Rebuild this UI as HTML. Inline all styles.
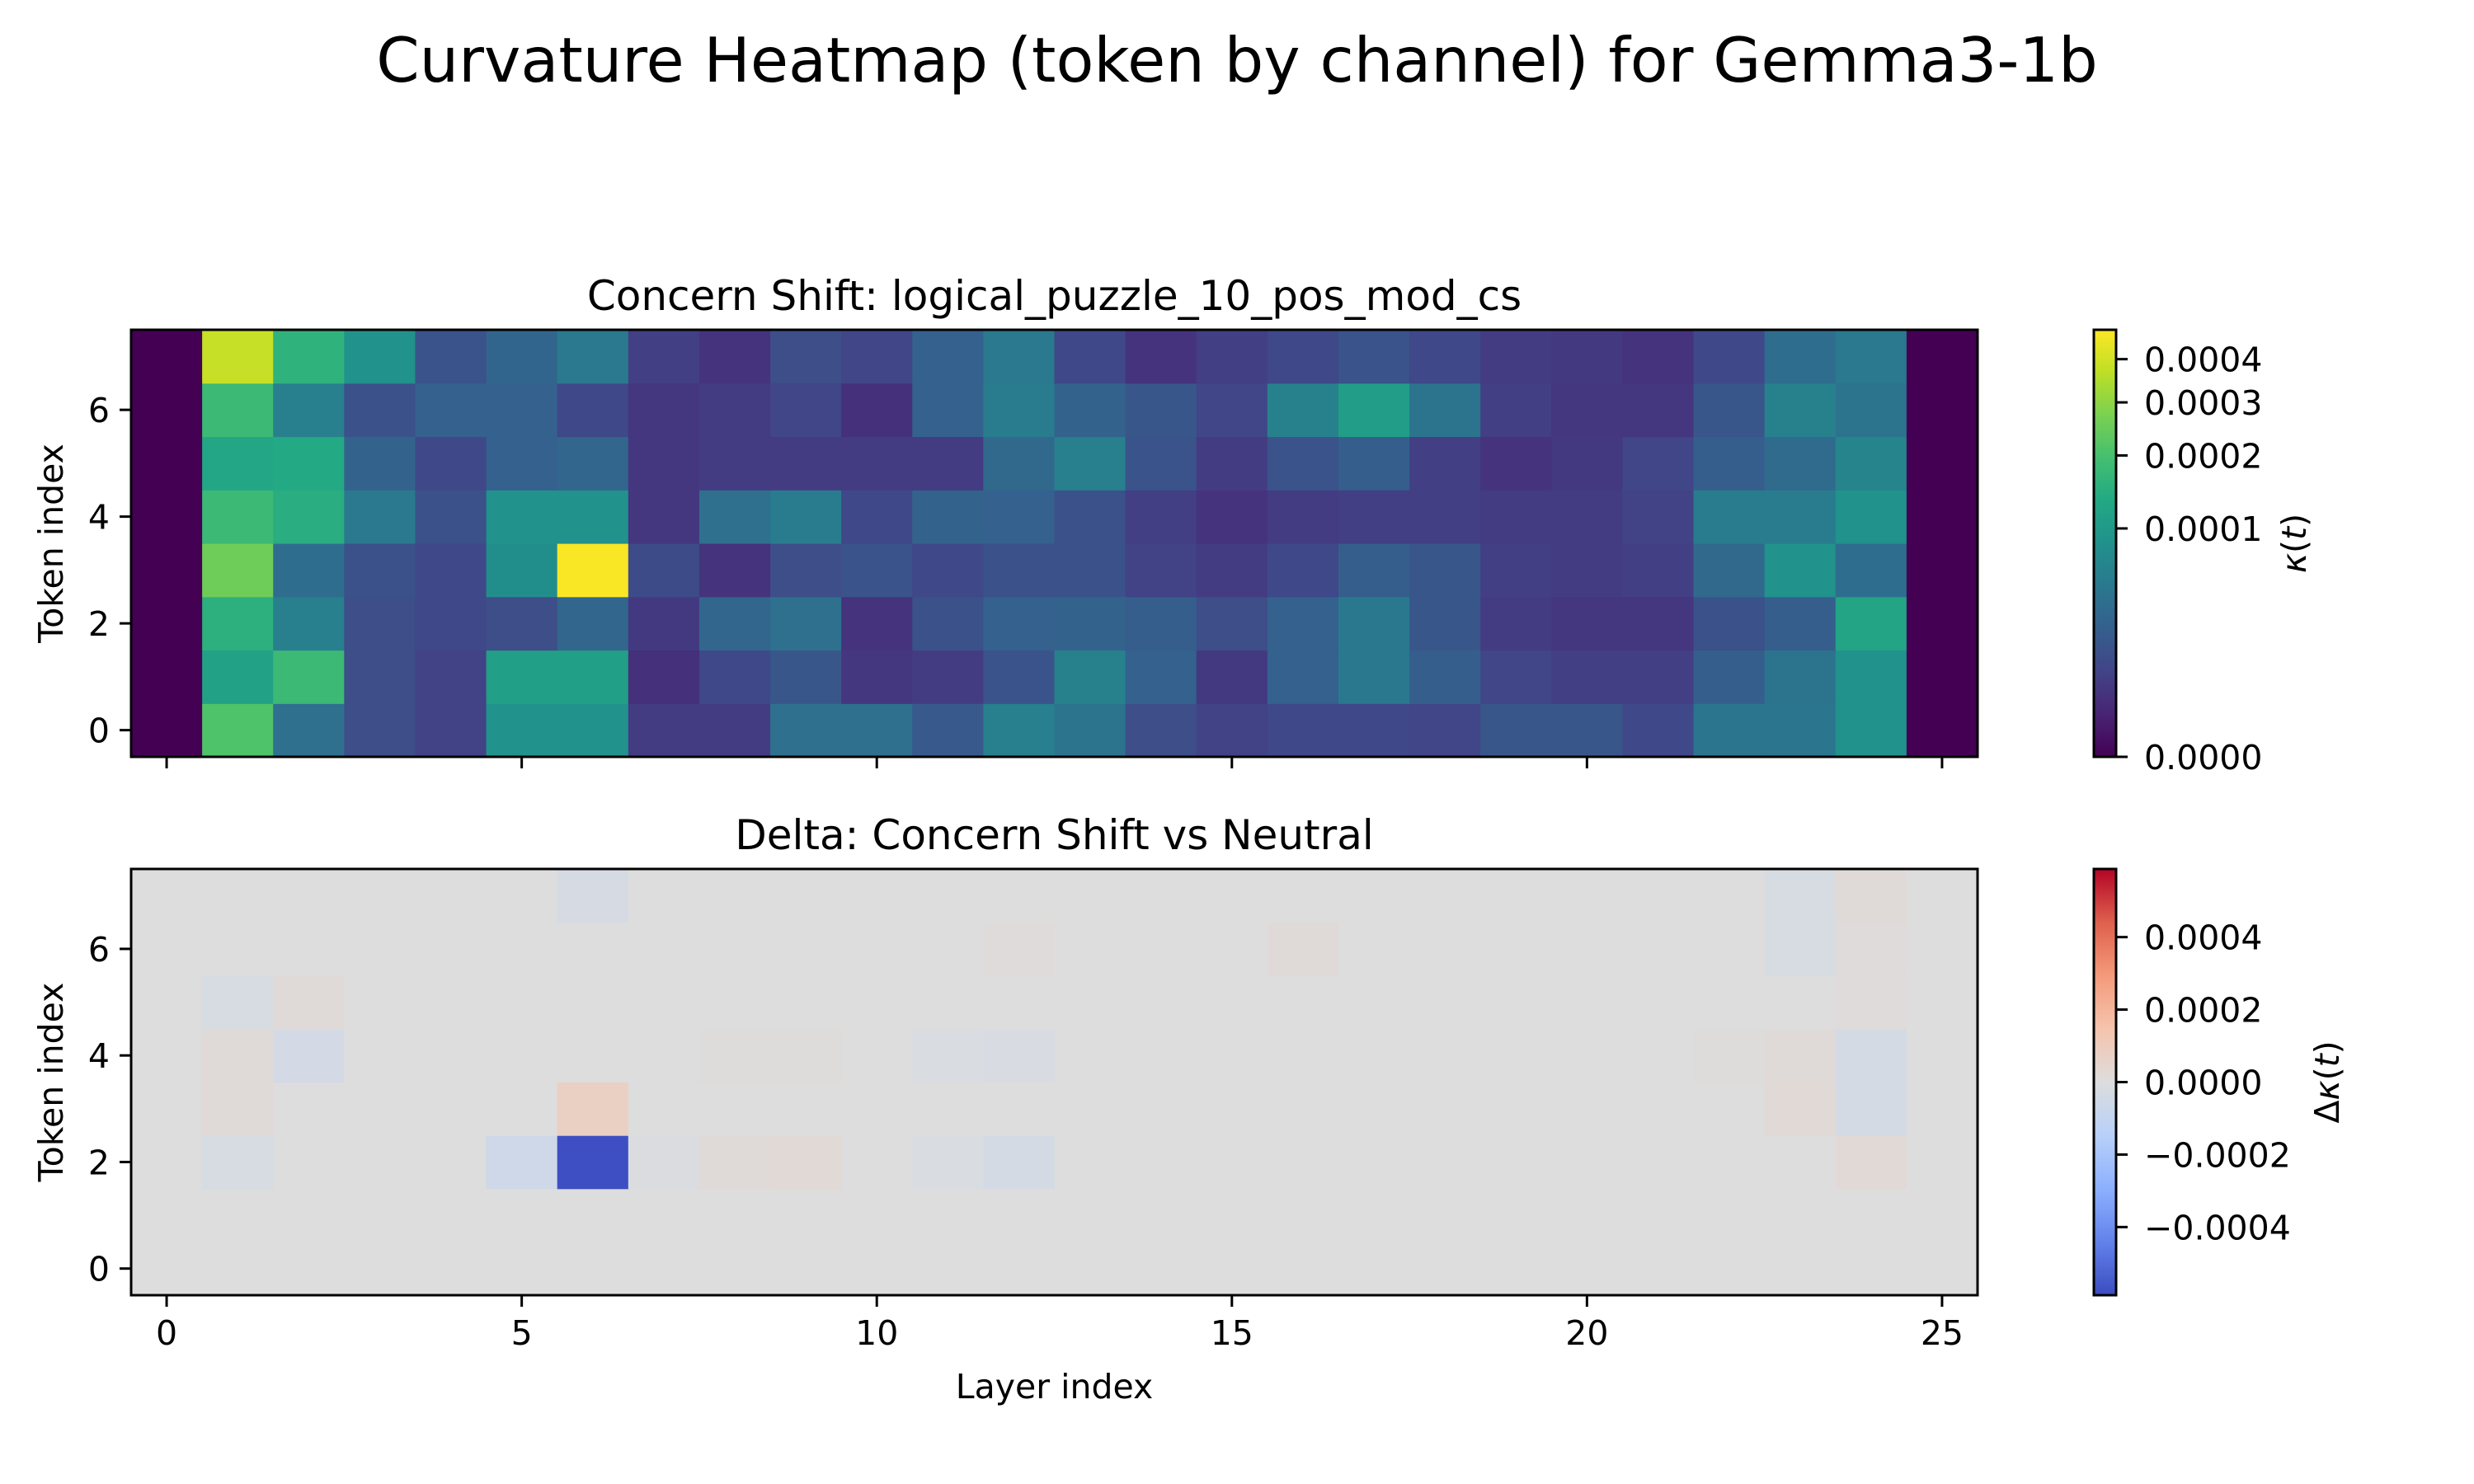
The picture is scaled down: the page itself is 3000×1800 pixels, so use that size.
<!DOCTYPE html>
<html><head><meta charset="utf-8"><style>
html,body{margin:0;padding:0;background:#fff;}
svg{display:block;font-family:"DejaVu Sans","Liberation Sans",sans-serif;}
</style></head><body>
<svg id="fig" width="3000" height="1800" viewBox="0 0 3000 1800" xmlns="http://www.w3.org/2000/svg">
<text x="1500" y="99" font-size="75" text-anchor="middle">Curvature Heatmap (token by channel) for Gemma3-1b</text>
<g id="top"></g>
<g id="bot"></g>
</svg>
<script>
// ---- data (kappa in units of 1e-5), rows = token index 0..7, cols = layer 0..25
const layers = [0,1,2,3,4,5,6,7,8,9,10,11,12,13,14,15,16,17,18,19,20,21,22,23,24,25];
const tokens = [0,1,2,3,4,5,6,7];
const kappaTok0 = [0,21,3.9,1.31,0.81,8.7,8.7,0.62,0.62,3.9,3.9,1.94,5.7,4.2,1.31,0.81,1.04,1.04,0.92,1.76,1.76,1.04,4.5,4.5,8.7,0];
const kappaTok1 = [0,11.8,17.9,1.31,0.81,11.3,11.3,0.33,1.04,1.76,0.46,0.62,1.6,6.0,2.5,0.53,2.5,4.8,2.3,0.92,0.71,0.71,2.3,4.2,8.7,0];
const kappaTok2 = [0,15.2,5.7,1.31,1.04,1.31,2.94,0.53,2.94,3.9,0.39,1.46,2.5,2.71,2.3,1.31,2.5,4.8,1.76,0.62,0.46,0.46,1.46,2.3,12.4,0];
const kappaTok3 = [0,25.5,3.6,1.46,1.04,8.0,47,1.18,0.39,1.31,1.6,1.04,1.46,1.46,0.81,0.62,1.04,2.3,1.76,0.71,0.62,0.71,3.2,8.7,3.6,0];
const kappaTok4 = [0,17.9,14.6,5.0,1.46,8.7,8.7,0.46,3.9,5.3,1.04,2.71,2.5,1.46,0.71,0.39,0.62,0.71,0.71,0.62,0.62,0.81,5.3,5.3,8.7,0];
const kappaTok5 = [0,12.8,13.5,2.71,1.04,2.5,2.94,0.46,0.62,0.62,0.62,0.62,3.2,5.7,1.6,0.62,1.6,2.3,0.71,0.39,0.53,0.92,2.3,3.4,6.4,0];
const kappaTok6 = [0,17.9,5.7,1.46,2.5,2.5,1.04,0.46,0.62,0.92,0.33,2.5,5.3,2.71,1.76,0.92,6.0,10.9,4.2,0.71,0.46,0.46,1.76,6.0,4.2,0];
const kappaTok7 = [0,38,15.8,8.7,1.6,2.9,5.0,0.71,0.39,1.31,0.92,2.5,5.0,1.04,0.39,0.71,1.04,1.6,1.04,0.62,0.53,0.39,1.04,3.6,5.0,0];
// delta kappa in units of 1e-5
const deltaTok0 = [0,0,0,0,0,0,0,0,0,0,0,0,0,0,0,0,0,0,0,0,0,0,0,0,0,0];
const deltaTok1 = [0,0,0,0,0,0,0,0,0,0,0,0,0,0,0,0,0,0,0,0,0,0,0,0,0,0];
const deltaTok2 = [0,-2.5,0,0,0,-6,-58,-1,1.5,2.5,0,-1.5,-3.5,0,0,0,0,0,0,0,0,0,0,0,2.5,0];
const deltaTok3 = [0,1.5,0,0,0,0,8,0,0,0,0,0,0,0,0,0,0,0,0,0,0,0,0,2.5,-3.5,0];
const deltaTok4 = [0,1.5,-4,0,0,0,0,0,0.7,0.7,0,-1.5,-2,0,0,0,0,0,0,0,0,0,0.7,1.5,-3.5,0];
const deltaTok5 = [0,-2.5,1.5,0,0,0,0,0,0,0,0,0,0,0,0,0,0,0,0,0,0,0,0,0,1,0];
const deltaTok6 = [0,0,0,0,0,0,0,0,0,0,0,0,1,0,0,0,1.5,0,0,0,0,0,0,-2.5,1,0];
const deltaTok7 = [0,0,0,0,0,0,-3,0,0,0,0,0,0,0,0,0,0,0,0,0,0,0,0,-2.5,1.5,0];
const xTicks = [0,5,10,15,20,25];
const yTicks = [0,2,4,6];
const kappaCbTicks = [0,0.0001,0.0002,0.0003,0.0004];
const kappaCbLabels = ["0.0000","0.0001","0.0002","0.0003","0.0004"];
const deltaCbTicks = [-0.0004,-0.0002,0,0.0002,0.0004];
const deltaCbLabels = ["\u22120.0004","\u22120.0002","0.0000","0.0002","0.0004"];

const kappaRows=[kappaTok0,kappaTok1,kappaTok2,kappaTok3,kappaTok4,kappaTok5,kappaTok6,kappaTok7];
const deltaRows=[deltaTok0,deltaTok1,deltaTok2,deltaTok3,deltaTok4,deltaTok5,deltaTok6,deltaTok7];
const UNIT=1e-5, KMAX=4.78e-4, GAMMA=0.4, DMAX=5.88e-4;

const NS="http://www.w3.org/2000/svg";
function mk(tag,attrs,parent){const e=document.createElementNS(NS,tag);for(const k in attrs)e.setAttribute(k,attrs[k]);parent.appendChild(e);return e;}
const VIR=["#440154","#482475","#414487","#355f8d","#2a788e","#21918c","#22a884","#44bf70","#7ad151","#bddf26","#fde725"];
const CW=["#3b4cc0","#6282ea","#8db0fe","#b8d0f9","#dddddd","#f5c4ad","#f49a7b","#de604d","#b40426"];
function hex(h){return [parseInt(h.slice(1,3),16),parseInt(h.slice(3,5),16),parseInt(h.slice(5,7),16)];}
function cmap(stops,t){t=Math.max(0,Math.min(1,t));const n=stops.length-1;const i=Math.min(n-1,Math.floor(t*n));const f=t*n-i;const a=hex(stops[i]),b=hex(stops[i+1]);return "rgb("+a.map((v,k)=>Math.round(v+(b[k]-v)*f)).join(",")+")";}
function knorm(v){return Math.pow(Math.max(0,v)/KMAX,GAMMA);}
function dnorm(v){return (v+DMAX)/(2*DMAX);}

const X0=159,X1=2398;
function xScale(l){return X0+(l+0.5)/26*(X1-X0);}
function panel(g,top,bot,rows,colorFn,title,cbStops,cbNorm,cbTicks,cbLabels,cbLabel,showX,prefix){
  const yScale=t=>bot-(t+0.5)/8*(bot-top);
  mk("text",{x:(X0+X1)/2,y:top-24,"font-size":50,"text-anchor":"middle",},g).textContent=title;
  rows.forEach((row,t)=>row.forEach((v,l)=>{
    const r=mk("rect",{x:xScale(l-0.5),y:yScale(t+0.5),width:xScale(l+0.5)-xScale(l-0.5)+0.6,height:yScale(t-0.5)-yScale(t+0.5)+0.6,fill:colorFn(v*UNIT)},g);
    
    
  }));
  mk("rect",{x:X0,y:top,width:X1-X0,height:bot-top,fill:"none",stroke:"#000","stroke-width":3,},g);
  yTicks.forEach(t=>{
    const y=yScale(t);
    mk("line",{x1:X0-14,x2:X0,y1:y,y2:y,stroke:"#000","stroke-width":3},g);
    const tx=mk("text",{x:X0-26,y:y+15,"font-size":41,"text-anchor":"end"},g);tx.textContent=t;
    
    
  });
  xTicks.forEach(l=>{
    const x=xScale(l);
    mk("line",{x1:x,x2:x,y1:bot,y2:bot+14,stroke:"#000","stroke-width":3},g);
    if(showX){const tx=mk("text",{x:x,y:bot+60,"font-size":41,"text-anchor":"middle"},g);tx.textContent=l;
      
      }
  });
  mk("text",{transform:"translate(76,"+((top+bot)/2)+") rotate(-90)","font-size":41,"text-anchor":"middle",},g).textContent="Token index";
  const cx0=2539,cx1=2566;
  const gid=prefix+"-grad";
  const defs=mk("defs",{},g);
  const lg=mk("linearGradient",{id:gid,x1:0,y1:1,x2:0,y2:0},defs);
  cbStops.forEach((c,i)=>mk("stop",{offset:i/(cbStops.length-1),"stop-color":c},lg));
  mk("rect",{x:cx0,y:top,width:cx1-cx0,height:bot-top,fill:"url(#"+gid+")",stroke:"#000","stroke-width":3,},g);
  cbTicks.forEach((v,i)=>{
    const y=bot-cbNorm(v)*(bot-top);
    mk("line",{x1:cx1,x2:cx1+14,y1:y,y2:y,stroke:"#000","stroke-width":3},g);
    const tx=mk("text",{x:2600,y:y+15,"font-size":41},g);tx.textContent=cbLabels[i];
    
    
  });
  const lab=mk("text",{transform:"translate("+(prefix==="curvature"?2796:2836)+","+((top+bot)/2)+") rotate(-90)","font-size":41,"text-anchor":"middle",},g);
  lab.innerHTML=cbLabel;
}
panel(document.getElementById("top"),400,918,kappaRows,v=>cmap(VIR,knorm(v)),"Concern Shift: logical_puzzle_10_pos_mod_cs",VIR,knorm,kappaCbTicks,kappaCbLabels,'<tspan font-style="italic">κ</tspan>(<tspan font-style="italic">t</tspan>)',false,"curvature");
panel(document.getElementById("bot"),1054,1571,deltaRows,v=>cmap(CW,dnorm(v)),"Delta: Concern Shift vs Neutral",CW,dnorm,deltaCbTicks,deltaCbLabels,'Δ<tspan font-style="italic">κ</tspan>(<tspan font-style="italic">t</tspan>)',true,"delta");
const xl=mk("text",{x:(X0+X1)/2,y:1696,"font-size":41,"text-anchor":"middle"},document.getElementById("fig"));
xl.textContent="Layer index";


</script>
</body></html>
